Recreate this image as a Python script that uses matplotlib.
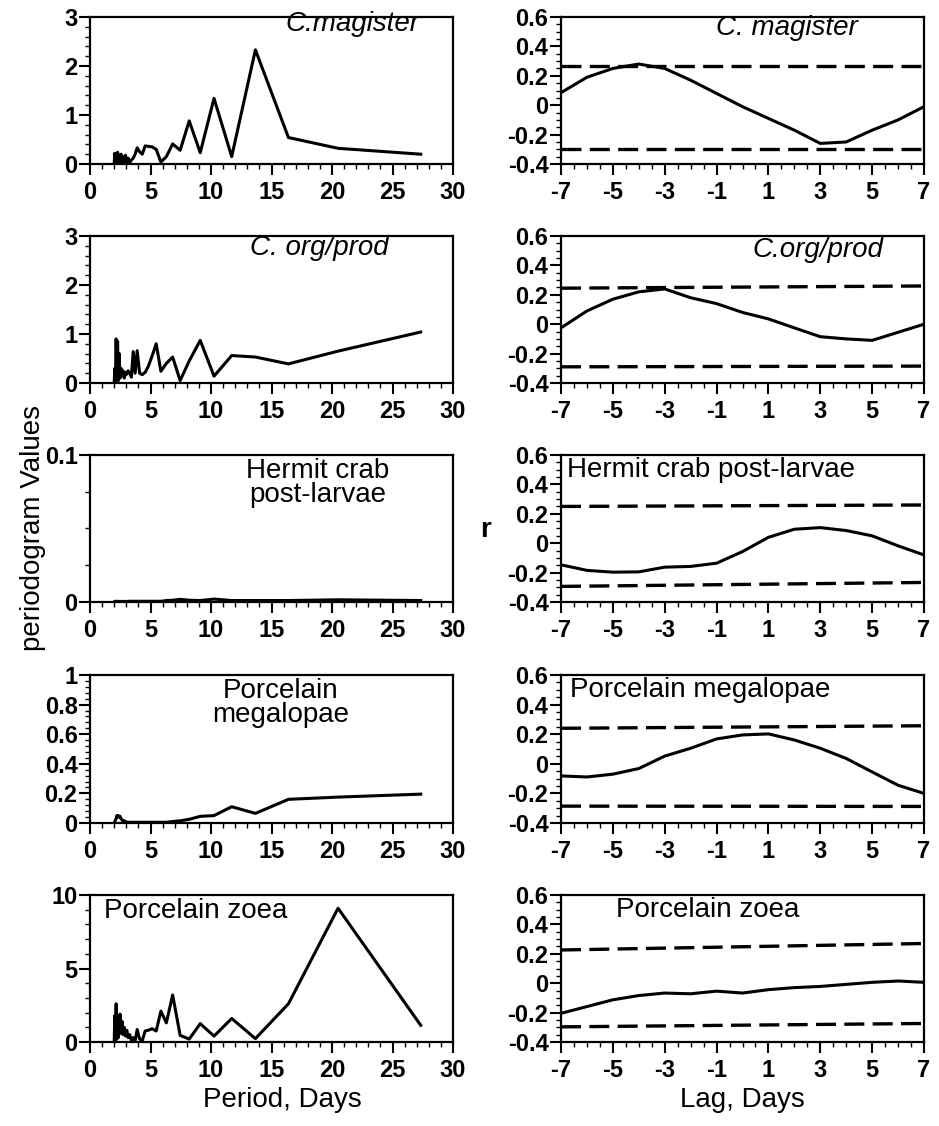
import numpy as np
import matplotlib.pyplot as plt
from matplotlib.ticker import MultipleLocator

plt.rcParams["font.family"] = ["Liberation Sans", "DejaVu Sans"]
plt.rcParams["axes.unicode_minus"] = False

# Periodogramas (periodo em dias)
period = [2.0, 2.05, 2.1, 2.16, 2.22, 2.28, 2.34, 2.41, 2.48, 2.56, 2.65, 2.73,
          2.83, 2.93, 3.04, 3.15, 3.28, 3.42, 3.57, 3.73, 3.9, 4.1, 4.32, 4.56,
          4.82, 5.13, 5.47, 5.86, 6.31, 6.83, 7.45, 8.2, 9.11, 10.25, 11.71,
          13.67, 16.4, 20.5, 27.33]

per_magister = [0.0, 0.22, 0.02, 0.15, 0.0, 0.24, 0.05, 0.18, 0.02, 0.2, 0.03, 0.15,
                0.05, 0.18, 0.04, 0.12, 0.03, 0.08, 0.12, 0.2, 0.33, 0.25, 0.2, 0.37,
                0.36, 0.35, 0.3, 0.04, 0.15, 0.41, 0.28, 0.88, 0.23, 1.34, 0.15,
                2.33, 0.54, 0.32, 0.2]
per_corg = [0.0, 0.3, 0.0, 0.9, 0.1, 0.85, 0.05, 0.6, 0.1, 0.3, 0.15, 0.25,
            0.1, 0.22, 0.18, 0.25, 0.2, 0.12, 0.64, 0.2, 0.66, 0.2, 0.17, 0.22,
            0.34, 0.55, 0.8, 0.24, 0.4, 0.53, 0.05, 0.45, 0.87, 0.14, 0.56,
            0.53, 0.39, 0.65, 1.04]
per_hermit = [0.0, 0.0005, 0.0, 0.0005, 0.0, 0.0005, 0.0, 0.0005, 0.0, 0.0005, 0.0, 0.0005,
              0.0, 0.0005, 0.0, 0.0005, 0.0005, 0.0005, 0.0005, 0.0005, 0.0005, 0.0005, 0.0005, 0.0005,
              0.0005, 0.0005, 0.0005, 0.0005, 0.001, 0.0012, 0.0018, 0.0012, 0.001, 0.002, 0.001,
              0.001, 0.001, 0.0015, 0.001]
per_megal = [0.0, 0.01, 0.02, 0.03, 0.05, 0.04, 0.05, 0.04, 0.045, 0.03, 0.02, 0.01,
             0.015, 0.01, 0.005, 0.005, 0.005, 0.005, 0.005, 0.005, 0.005, 0.005, 0.005, 0.005,
             0.005, 0.005, 0.005, 0.005, 0.005, 0.01, 0.015, 0.025, 0.045, 0.05, 0.11,
             0.065, 0.16, 0.175, 0.195]
per_zoea = [0.0, 1.8, 0.1, 2.6, 0.2, 1.2, 0.3, 0.8, 1.9, 0.6, 1.4, 0.5,
            1.0, 0.4, 0.8, 0.3, 0.5, 0.1, 0.3, 0.1, 0.85, 0.2, 0.1, 0.75,
            0.8, 0.9, 0.75, 2.1, 1.3, 3.2, 0.45, 0.2, 1.25, 0.4, 1.6,
            0.23, 2.6, 9.1, 1.14]

# Correlacao cruzada (lag em dias)
lag = [-7, -6, -5, -4, -3, -2, -1, 0, 1, 2, 3, 4, 5, 6, 7]
r_magister = [0.085, 0.19, 0.25, 0.28, 0.25, 0.17, 0.08, -0.01, -0.09, -0.17, -0.26, -0.25, -0.17, -0.1, -0.01]
r_corg = [-0.025, 0.09, 0.17, 0.22, 0.24, 0.18, 0.14, 0.08, 0.036, -0.025, -0.085, -0.1, -0.11, -0.055, 0.0]
r_hermit = [-0.147, -0.185, -0.197, -0.195, -0.163, -0.158, -0.136, -0.057, 0.04, 0.095, 0.106, 0.086, 0.05, -0.018, -0.08]
r_megal = [-0.082, -0.089, -0.07, -0.032, 0.052, 0.105, 0.168, 0.195, 0.202, 0.161, 0.105, 0.036, -0.055, -0.145, -0.2]
r_zoea = [-0.205, -0.159, -0.113, -0.084, -0.067, -0.072, -0.054, -0.067, -0.044, -0.03, -0.022, -0.008, 0.006, 0.015, 0.006]

# Limites de confianca (inicio e fim)
ci_upper = [(0.27, 0.27), (0.245, 0.26), (0.25, 0.26), (0.24, 0.257), (0.226, 0.27)]
ci_lower = [(-0.30, -0.30), (-0.29, -0.285), (-0.294, -0.267), (-0.286, -0.288), (-0.297, -0.274)]

per_series = [per_magister, per_corg, per_hermit, per_megal, per_zoea]
r_series = [r_magister, r_corg, r_hermit, r_megal, r_zoea]

# limites y, passo maior, passo menor dos periodogramas
per_ylim = [(0, 3, 1, 0.2), (0, 3, 1, 0.2), (0, 0.1, 0.1, 0.025), (0, 1, 0.2, 0.04), (0, 10, 5, 1)]

W, H = 939, 1126
fig = plt.figure(figsize=(W / 100, H / 100), dpi=100)

rows_px = [(17, 164), (236, 383), (455, 602), (675, 823), (895, 1042)]
left_px = (90, 453)
right_px = (561, 924)

lw = 2.2


def style_axes(ax):
    for s in ax.spines.values():
        s.set_linewidth(1.6)
    ax.tick_params(which="major", direction="out", length=8, width=1.5)
    ax.tick_params(which="minor", direction="out", length=3.5, width=1.0)
    ax.tick_params(axis="x", which="major", pad=4)
    ax.tick_params(axis="y", which="major", pad=1)
    for lab in ax.get_xticklabels() + ax.get_yticklabels():
        lab.set_fontsize(17)
        lab.set_fontweight("bold")


for i, (top, bot) in enumerate(rows_px):
    y0 = 1 - bot / H
    h = (bot - top) / H
    axl = fig.add_axes([left_px[0] / W, y0, (left_px[1] - left_px[0]) / W, h])
    axr = fig.add_axes([right_px[0] / W, y0, (right_px[1] - right_px[0]) / W, h])

    # periodograma
    axl.plot(period, per_series[i], color="black", lw=lw)
    ymin, ymax, maj, mnr = per_ylim[i]
    axl.set_xlim(0, 30)
    axl.set_ylim(ymin, ymax)
    axl.xaxis.set_major_locator(MultipleLocator(5))
    axl.xaxis.set_minor_locator(MultipleLocator(1))
    axl.yaxis.set_major_locator(MultipleLocator(maj))
    axl.yaxis.set_minor_locator(MultipleLocator(mnr))
    if i == 2:
        axl.set_yticks([0, 0.1])
        axl.set_yticklabels(["0", "0.1"])
    else:
        axl.yaxis.set_major_formatter(plt.FuncFormatter(lambda v, p: f"{v:g}"))

    # correlacao
    axr.plot(lag, r_series[i], color="black", lw=lw)
    axr.plot([-7, 7], ci_upper[i], color="black", lw=2.4, dashes=(6, 2.5))
    axr.plot([-7, 7], ci_lower[i], color="black", lw=2.4, dashes=(6, 2.5))
    axr.set_xlim(-7, 7)
    axr.set_ylim(-0.4, 0.6)
    axr.set_xticks([-7, -5, -3, -1, 1, 3, 5, 7])
    axr.xaxis.set_minor_locator(MultipleLocator(0.5))
    axr.yaxis.set_major_locator(MultipleLocator(0.2))
    axr.yaxis.set_minor_locator(MultipleLocator(0.05))
    axr.yaxis.set_major_formatter(plt.FuncFormatter(lambda v, p: f"{v:.1f}" if abs(v) > 1e-9 else "0"))

    style_axes(axl)
    style_axes(axr)


# Rotulos dentro dos paineis
def px_text(x, y, s, **kw):
    fig.text(x / W, 1 - y / H, s, **kw)


fs = 20
lab_kw = dict(fontsize=fs, ha="center", va="center")
px_text(352, 24, "C.magister", style="italic", **lab_kw)
px_text(319, 248, "C. org/prod", style="italic", **lab_kw)
px_text(318, 471, "Hermit crab", **lab_kw)
px_text(318, 495, "post-larvae", **lab_kw)
px_text(281, 691, "Porcelain", **lab_kw)
px_text(281, 715, "megalopae", **lab_kw)
px_text(104, 911, "Porcelain zoea", fontsize=fs, ha="left", va="center")

px_text(787, 28, "C. magister", style="italic", **lab_kw)
px_text(818, 250, "C.org/prod", style="italic", **lab_kw)
px_text(567, 470, "Hermit crab post-larvae", fontsize=fs, ha="left", va="center")
px_text(570, 690, "Porcelain megalopae", fontsize=fs, ha="left", va="center")
px_text(616, 910, "Porcelain zoea", fontsize=fs, ha="left", va="center")

# Rotulos dos eixos
px_text(33, 528, "periodogram Values", fontsize=20, rotation=90, ha="center", va="center")
px_text(486, 530, "r", fontsize=20, fontweight="bold", ha="center", va="center")
px_text(282, 1100, "Period, Days", fontsize=20, ha="center", va="center")
px_text(742, 1100, "Lag, Days", fontsize=20, ha="center", va="center")

fig.savefig("out.png", dpi=100)
